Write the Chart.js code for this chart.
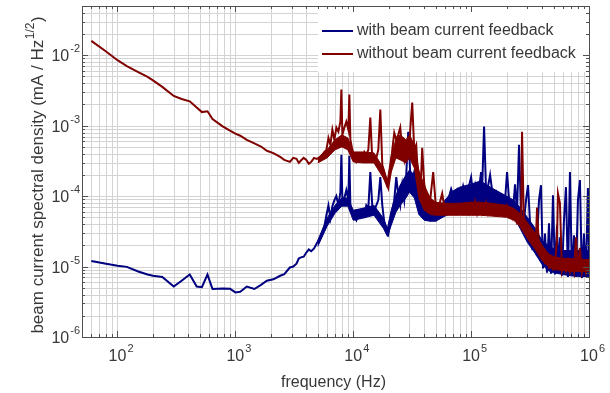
<!DOCTYPE html>
<html>
<head>
<meta charset="utf-8">
<script src="https://cdn.jsdelivr.net/npm/chart.js@4.4.1/dist/chart.umd.min.js"></script>
<style>
  html, body { margin: 0; padding: 0; background: #ffffff; }
  canvas { display: block; }
</style>
</head>
<body>
<canvas id="psd" width="610" height="393"></canvas>
<script>
// Beam current noise spectra, measured with and without the current feedback loop.
const frequencyHz = [
  60, 80, 100, 120, 150, 180, 200, 240, 300, 350,
  410, 470, 520, 580, 640, 780, 900, 1000, 1100, 1250,
  1450, 1650, 1850, 2100, 2400, 2600, 2900, 3100, 3300, 3450,
  3600, 3800, 4000, 4200, 4400, 4650, 4900, 5300, 5690, 5920,
  6160, 6400, 6650, 6920, 7190, 7480, 7780, 7930, 8090, 8410,
  8740, 9090, 9270, 9450, 9830, 10220, 10620, 11050, 11480, 11940,
  12420, 12910, 13430, 13960, 14510, 15090, 15690, 16320, 16970, 17640,
  18340, 19070, 19830, 20610, 21440, 22280, 23170, 24090, 25050, 26040,
  27080, 28150, 29280, 29850, 30440, 31650, 32910, 34220, 35580, 36990,
  38460, 39990, 41580, 43240, 44960, 47660, 50520, 53580, 56810, 60230,
  63870, 67710, 71780, 76110, 80690, 85550, 90710, 96160, 99980, 103900,
  108100, 112400, 116900, 121500, 123900, 128800, 134000, 139300, 144900, 153600,
  162800, 172700, 183000, 194100, 201800, 209800, 218200, 226800, 235800, 245200,
  254900, 265100, 270300, 281000, 292200, 303900, 315900, 328500, 341600, 355100,
  362200, 376500, 391500, 407200, 423300, 440200, 457700, 475900, 494900, 514500,
  535000, 545500, 567000, 589700, 613200, 637600, 663000, 689300, 716800, 745300,
  774900, 805600, 837500, 871000, 905700, 941400, 978800, 1000000
];

// mA / Hz^1/2, loop closed
const withFeedback = [
  1.2e-5, 1.1e-5, 1.03e-5, 9.9e-6, 8.5e-6, 7.7e-6, 7.4e-6, 7.1e-6, 5.2e-6, 6.3e-6,
  7.7e-6, 5.2e-6, 5.1e-6, 7.7e-6, 4.8e-6, 4.9e-6, 4.85e-6, 4.3e-6, 4.4e-6, 5.2e-6,
  4.8e-6, 5.5e-6, 6.3e-6, 6.6e-6, 7.4e-6, 7.8e-6, 9.7e-6, 1.0e-5, 1.1e-5, 1.3e-5,
  1.35e-5, 1.38e-5, 1.58e-5, 1.75e-5, 1.65e-5, 1.81e-5, 2.13e-5, 2.68e-5, 3.7e-5, 5.35e-5,
  7.4e-5, 4.86e-5, 7.2e-5, 8.77e-5, 1.0e-4, 7.4e-5, 1.14e-4, 3.85e-4, 8.77e-5, 9.4e-5,
  1.22e-4, 8.77e-5, 3.73e-4, 7.4e-5, 6.3e-5, 5.0e-5, 4.54e-5, 5.9e-5, 5.2e-5, 6.3e-5,
  5.35e-5, 7.4e-5, 6.7e-5, 2.2e-4, 7.2e-5, 6.3e-5, 7.4e-5, 8.77e-5, 1.86e-4, 7.4e-5,
  4.24e-5, 3.27e-5, 2.85e-5, 4.24e-5, 6.3e-5, 8.77e-5, 1.86e-4, 1.03e-4, 7.4e-5, 1.43e-4,
  8.77e-5, 1.99e-4, 8.2e-4, 4.54e-4, 1.99e-4, 1.69e-4, 2.2e-4, 1.43e-4, 1.03e-4, 5.7e-5,
  5.2e-5, 6.3e-5, 4.86e-5, 5.5e-5, 4.54e-5, 5.0e-5, 4.54e-5, 5.2e-5, 5.35e-5, 7.4e-5,
  8.77e-5, 1.26e-4, 9.4e-5, 1.22e-4, 8.77e-5, 1.39e-4, 9.4e-5, 1.43e-4, 1.86e-4, 1.03e-4,
  1.43e-4, 1.0e-4, 1.3e-4, 2.2e-4, 1.22e-4, 9.7e-4, 1.14e-4, 1.39e-4, 1.99e-4, 9.4e-5,
  1.14e-4, 7.4e-5, 8.77e-5, 8.77e-5, 2.2e-4, 8.77e-5, 7.4e-5, 6.3e-5, 1.47e-4, 5.9e-5,
  5.35e-4, 5.35e-5, 4.54e-5, 4.54e-5, 8.77e-5, 1.43e-4, 4.24e-5, 2.05e-5, 2.77e-5, 1.75e-5,
  2.35e-5, 8.77e-5, 1.43e-4, 9.4e-6, 2.95e-5, 8.2e-6, 4.1e-5, 7.9e-6, 1.03e-4, 7.7e-6,
  3.85e-5, 8.77e-6, 2.6e-5, 7.4e-6, 4.54e-5, 1.34e-4, 7.1e-6, 2.2e-4, 7.4e-6, 2.77e-5,
  7.1e-6, 8.77e-5, 1.69e-4, 6.9e-6, 2.95e-5, 7.1e-6, 1.3e-4, 1.69e-5
];

// mA / Hz^1/2, loop open
const withoutFeedback = [
  1.6e-2, 1.13e-2, 8.5e-3, 7.0e-3, 5.75e-3, 4.93e-3, 4.4e-3, 3.55e-3, 2.64e-3, 2.39e-3,
  2.22e-3, 1.81e-3, 1.56e-3, 1.6e-3, 1.24e-3, 9.8e-4, 8.5e-4, 7.7e-4, 7.2e-4, 6.3e-4,
  5.6e-4, 5.06e-4, 4.4e-4, 4.07e-4, 3.6e-4, 3.27e-4, 3.06e-4, 3.49e-4, 3.38e-4, 2.96e-4,
  3.2e-4, 3.49e-4, 3.27e-4, 2.87e-4, 3.06e-4, 3.49e-4, 3.38e-4, 3.6e-4, 4.24e-4, 4.54e-4,
  6.7e-4, 5.35e-4, 8.77e-4, 6.3e-4, 9.4e-4, 8.2e-4, 1.14e-3, 3.27e-3, 7.4e-4, 9.4e-4,
  1.14e-3, 8.77e-4, 2.77e-3, 6.3e-4, 4.54e-4, 3.6e-4, 3.06e-4, 3.49e-4, 3.85e-4, 3.49e-4,
  4.24e-4, 3.85e-4, 4.54e-4, 1.3e-3, 3.27e-4, 3.06e-4, 3.49e-4, 4.54e-4, 1.69e-3, 2.77e-4,
  2.2e-4, 1.58e-4, 1.3e-4, 1.99e-4, 4.54e-4, 7.9e-4, 6.3e-4, 7.4e-4, 9.4e-4, 4.54e-4,
  3.27e-4, 5.35e-4, 6.3e-4, 4.54e-4, 8.77e-4, 2.13e-3, 4.54e-4, 5.35e-4, 1.69e-4, 8.77e-5,
  4.86e-4, 1.5e-4, 1.03e-4, 7.4e-5, 8.77e-5, 2.2e-4, 6.3e-5, 7.4e-5, 1.09e-4, 5.9e-5,
  7.4e-5, 5.7e-5, 7.2e-5, 5.7e-5, 7.4e-5, 5.9e-5, 7.4e-5, 5.7e-5, 7.6e-5, 5.9e-5,
  8.2e-5, 5.7e-5, 7.6e-5, 5.9e-5, 7.2e-5, 5.9e-5, 7.9e-5, 5.7e-5, 7.2e-5, 5.7e-5,
  6.9e-5, 5.5e-5, 6.7e-5, 5.9e-5, 7.2e-5, 5.5e-5, 6.3e-5, 4.86e-5, 5.7e-5, 4.24e-5,
  4.86e-5, 3.85e-5, 8.2e-4, 3.49e-5, 4.0e-5, 3.06e-5, 2.68e-5, 3.06e-5, 2.28e-5, 2.5e-5,
  6.9e-5, 1.81e-5, 2.0e-5, 1.43e-5, 1.15e-5, 1.3e-5, 1.0e-5, 1.22e-5, 9.4e-6, 1.15e-5,
  2.35e-5, 1.09e-4, 7.9e-5, 8.8e-6, 1.2e-5, 8.8e-6, 1.2e-5, 8.5e-6, 1.15e-5, 8.5e-6,
  2.6e-5, 8.5e-6, 1.85e-5, 8.2e-6, 1.1e-5, 8.2e-6, 1.05e-5, 8.5e-6
];

// Upper and lower edges of the dense noise floor in the kHz..MHz range
const bandFrequencyHz = [
  5000, 6000, 7000, 8000, 9000, 10000, 12000, 15000, 18000, 19500,
  21000, 23000, 25000, 28000, 30000, 33000, 36000, 40000, 45000, 50000,
  60000, 70000, 80000, 100000, 120000, 150000, 200000, 230000, 260000, 300000,
  350000, 400000, 450000, 500000, 600000, 700000, 800000, 1000000
];
const withFeedbackUpper = [
  2.35e-5, 4.86e-5, 7.4e-5, 9.4e-5, 9.4e-5, 6.3e-5, 6.7e-5, 7.4e-5, 4.86e-5, 3.49e-5,
  6.3e-5, 1.03e-4, 1.43e-4, 1.99e-4, 2.35e-4, 1.99e-4, 8.77e-5, 6.7e-5, 5.9e-5, 5.7e-5,
  8.77e-5, 1.18e-4, 1.34e-4, 1.48e-4, 1.64e-4, 1.3e-4, 1.0e-4, 8.77e-5, 6.9e-5, 5.0e-5,
  3.49e-5, 2.35e-5, 2.0e-5, 1.81e-5, 1.69e-5, 1.69e-5, 1.69e-5, 1.69e-5
];
const withFeedbackLower = [
  1.93e-5, 3.73e-5, 5.7e-5, 7.2e-5, 7.2e-5, 4.54e-5, 4.86e-5, 5.35e-5, 3.49e-5, 2.68e-5,
  3.85e-5, 5.9e-5, 7.4e-5, 9.4e-5, 1.14e-4, 9.4e-5, 5.5e-5, 4.54e-5, 4.4e-5, 4.4e-5,
  5.2e-5, 5.9e-5, 6.3e-5, 6.7e-5, 6.7e-5, 6.3e-5, 5.7e-5, 5.2e-5, 3.49e-5, 2.2e-5,
  1.53e-5, 1.07e-5, 8.77e-6, 8.2e-6, 7.7e-6, 7.4e-6, 7.2e-6, 7.2e-6
];
const withoutFeedbackUpper = [
  3.49e-4, 4.54e-4, 6.3e-4, 7.4e-4, 6.7e-4, 4.24e-4, 4.24e-4, 4.11e-4, 2.5e-4, 1.69e-4,
  3.85e-4, 6.3e-4, 7.4e-4, 6.3e-4, 7.4e-4, 5.35e-4, 2.35e-4, 1.43e-4, 9.4e-5, 8.2e-5,
  7.9e-5, 7.9e-5, 7.9e-5, 8.2e-5, 8.2e-5, 7.9e-5, 7.4e-5, 6.7e-5, 5.7e-5, 4.24e-5,
  2.95e-5, 2.0e-5, 1.53e-5, 1.39e-5, 1.3e-5, 1.3e-5, 1.26e-5, 1.26e-5
];
const withoutFeedbackLower = [
  2.96e-4, 3.49e-4, 4.54e-4, 5.0e-4, 4.54e-4, 3.06e-4, 2.96e-4, 2.96e-4, 1.81e-4, 1.3e-4,
  2.2e-4, 3.49e-4, 3.27e-4, 2.96e-4, 3.49e-4, 2.5e-4, 9.4e-5, 6.3e-5, 5.5e-5, 5.35e-5,
  5.35e-5, 5.35e-5, 5.35e-5, 5.35e-5, 5.35e-5, 5.2e-5, 5.0e-5, 4.54e-5, 3.73e-5, 2.5e-5,
  1.75e-5, 1.22e-5, 1.0e-5, 9.1e-6, 8.77e-6, 8.5e-6, 8.5e-6, 8.5e-6
];

const seriesLabels = ['with beam current feedback', 'without beam current feedback'];
const seriesColors = ['#000080', '#800000'];
const xTickExponents = [2, 3, 4, 5, 6];
const yTickExponents = [-6, -5, -4, -3, -2];
const xTitle = 'frequency (Hz)';
const yTitleParts = ['beam current spectral density (mA / Hz', '1/2', ')'];

const FONT = '"Liberation Sans", Arial, Helvetica, sans-serif';
const INK = '#383838';
const GRID = '#d3d3d3';
const FRAME = '#505050';

function logSteps(min, max) {
  const out = [];
  const e0 = Math.floor(Math.log10(min)), e1 = Math.ceil(Math.log10(max));
  for (let e = e0; e <= e1; e++) {
    for (let m = 1; m <= 9; m++) {
      const v = m * Math.pow(10, e);
      if (v >= min * 0.9999 && v <= max * 1.0001) out.push({ v, major: m === 1 });
    }
  }
  return out;
}

function drawPower(ctx, x, yBase, exp, align) {
  // "10" followed by a raised exponent
  const big = '16px ' + FONT, small = '11px ' + FONT;
  ctx.font = big;
  const wb = ctx.measureText('10').width;
  ctx.font = small;
  const ws = ctx.measureText(String(exp)).width;
  const x0 = align === 'center' ? x - wb / 2 : x - wb - ws - 1;
  ctx.textAlign = 'left';
  ctx.textBaseline = 'alphabetic';
  ctx.font = big;
  ctx.fillText('10', x0, yBase);
  ctx.font = small;
  ctx.fillText(String(exp), x0 + wb + 1, yBase - 9);
}

const framePlugin = {
  id: 'psdFrame',
  beforeDraw(chart) {
    const ctx = chart.ctx;
    ctx.save();
    ctx.fillStyle = '#ffffff';
    ctx.fillRect(0, 0, chart.width, chart.height);
    ctx.restore();
  },
  beforeDatasetsDraw(chart) {
    const { ctx, chartArea: a, scales: { x, y } } = chart;
    ctx.save();
    ctx.strokeStyle = GRID;
    ctx.lineWidth = 1;
    ctx.beginPath();
    for (const t of logSteps(x.min, x.max)) {
      const px = Math.round(x.getPixelForValue(t.v)) + 0.5;
      ctx.moveTo(px, a.top); ctx.lineTo(px, a.bottom);
    }
    for (const t of logSteps(y.min, y.max)) {
      const py = Math.round(y.getPixelForValue(t.v)) + 0.5;
      ctx.moveTo(a.left, py); ctx.lineTo(a.right, py);
    }
    ctx.stroke();
    ctx.restore();
  },
  afterDatasetsDraw(chart) {
    // legend box in the upper right corner of the plot
    const ctx = chart.ctx;
    const a = chart.chartArea;
    ctx.save();
    ctx.fillStyle = '#ffffff';
    ctx.fillRect(318, a.top, a.right - 318, 66);
    const rows = [31, 54];
    ctx.font = '16px ' + FONT;
    ctx.textBaseline = 'middle';
    ctx.textAlign = 'left';
    rows.forEach((ry, i) => {
      ctx.strokeStyle = seriesColors[i];
      ctx.lineWidth = 2;
      ctx.beginPath();
      ctx.moveTo(322, ry); ctx.lineTo(353, ry);
      ctx.stroke();
      ctx.fillStyle = INK;
      ctx.fillText(seriesLabels[i], 357, ry);
    });
    ctx.restore();
  },
  afterDraw(chart) {
    const { ctx, chartArea: a, scales: { x, y } } = chart;
    ctx.save();
    // frame
    ctx.strokeStyle = FRAME;
    ctx.lineWidth = 1;
    ctx.strokeRect(Math.round(a.left) + 0.5, Math.round(a.top) + 0.5,
                   Math.round(a.right - a.left), Math.round(a.bottom - a.top));
    // inward ticks on all four sides
    ctx.beginPath();
    for (const t of logSteps(x.min, x.max)) {
      const px = Math.round(x.getPixelForValue(t.v)) + 0.5;
      const len = t.major ? 6 : 3;
      ctx.moveTo(px, a.bottom); ctx.lineTo(px, a.bottom - len);
      ctx.moveTo(px, a.top); ctx.lineTo(px, a.top + len);
    }
    for (const t of logSteps(y.min, y.max)) {
      const py = Math.round(y.getPixelForValue(t.v)) + 0.5;
      const len = t.major ? 6 : 3;
      ctx.moveTo(a.left, py); ctx.lineTo(a.left + len, py);
      ctx.moveTo(a.right, py); ctx.lineTo(a.right - len, py);
    }
    ctx.stroke();

    // tick labels
    ctx.fillStyle = INK;
    xTickExponents.forEach(e => {
      drawPower(ctx, x.getPixelForValue(Math.pow(10, e)), 361, e, 'center');
    });
    yTickExponents.forEach(e => {
      drawPower(ctx, 80, y.getPixelForValue(Math.pow(10, e)) + 6, e, 'right');
    });

    // x title
    ctx.font = '16px ' + FONT;
    ctx.textAlign = 'center';
    ctx.textBaseline = 'alphabetic';
    ctx.fillText(xTitle, (a.left + a.right) / 2 - 2, 387);

    // y title, rotated, with the 1/2 exponent raised
    ctx.translate(36.5, 175);
    ctx.rotate(-Math.PI / 2);
    const main = '17px ' + FONT, sup = '12px ' + FONT;
    ctx.font = main;
    const w1 = ctx.measureText(yTitleParts[0]).width;
    const w3 = ctx.measureText(yTitleParts[2]).width;
    ctx.font = sup;
    const w2 = ctx.measureText(yTitleParts[1]).width;
    const x0 = -(w1 + w2 + w3 + 1) / 2;
    ctx.textAlign = 'left';
    ctx.font = main;
    ctx.fillText(yTitleParts[0], x0, 6);
    ctx.font = sup;
    ctx.fillText(yTitleParts[1], x0 + w1 + 0.5, -3);
    ctx.font = main;
    ctx.fillText(yTitleParts[2], x0 + w1 + w2 + 1, 6);
    ctx.restore();
  }
};

const toPoints = (xs, values) => xs.map((f, i) => ({ x: f, y: values[i] }));

function spectrumLine(label, values, color, order) {
  return {
    label, data: toPoints(frequencyHz, values),
    borderColor: color, borderWidth: 2, pointRadius: 0, tension: 0,
    fill: false, order
  };
}
function noiseEdge(label, values, color, order, fillTo) {
  return {
    label, data: toPoints(bandFrequencyHz, values),
    borderColor: color, backgroundColor: color, borderWidth: 1,
    pointRadius: 0, tension: 0, fill: fillTo, order
  };
}

new Chart(document.getElementById('psd'), {
  type: 'line',
  data: {
    datasets: [
      spectrumLine(seriesLabels[0], withFeedback, seriesColors[0], 2),
      noiseEdge('with feedback, floor top', withFeedbackUpper, seriesColors[0], 3, '+1'),
      noiseEdge('with feedback, floor bottom', withFeedbackLower, seriesColors[0], 3, false),
      spectrumLine(seriesLabels[1], withoutFeedback, seriesColors[1], 0),
      noiseEdge('without feedback, floor top', withoutFeedbackUpper, seriesColors[1], 1, '+1'),
      noiseEdge('without feedback, floor bottom', withoutFeedbackLower, seriesColors[1], 1, false)
    ]
  },
  options: {
    responsive: false,
    animation: false,
    devicePixelRatio: 1,
    layout: { padding: { left: 82, top: 6, right: 21, bottom: 56 } },
    plugins: {
      legend: { display: false },
      tooltip: { enabled: false }
    },
    scales: {
      x: { type: 'logarithmic', min: 50, max: 1e6, display: false },
      y: { type: 'logarithmic', min: 1e-6, max: 0.05, display: false }
    }
  },
  plugins: [framePlugin]
});
</script>
</body>
</html>
